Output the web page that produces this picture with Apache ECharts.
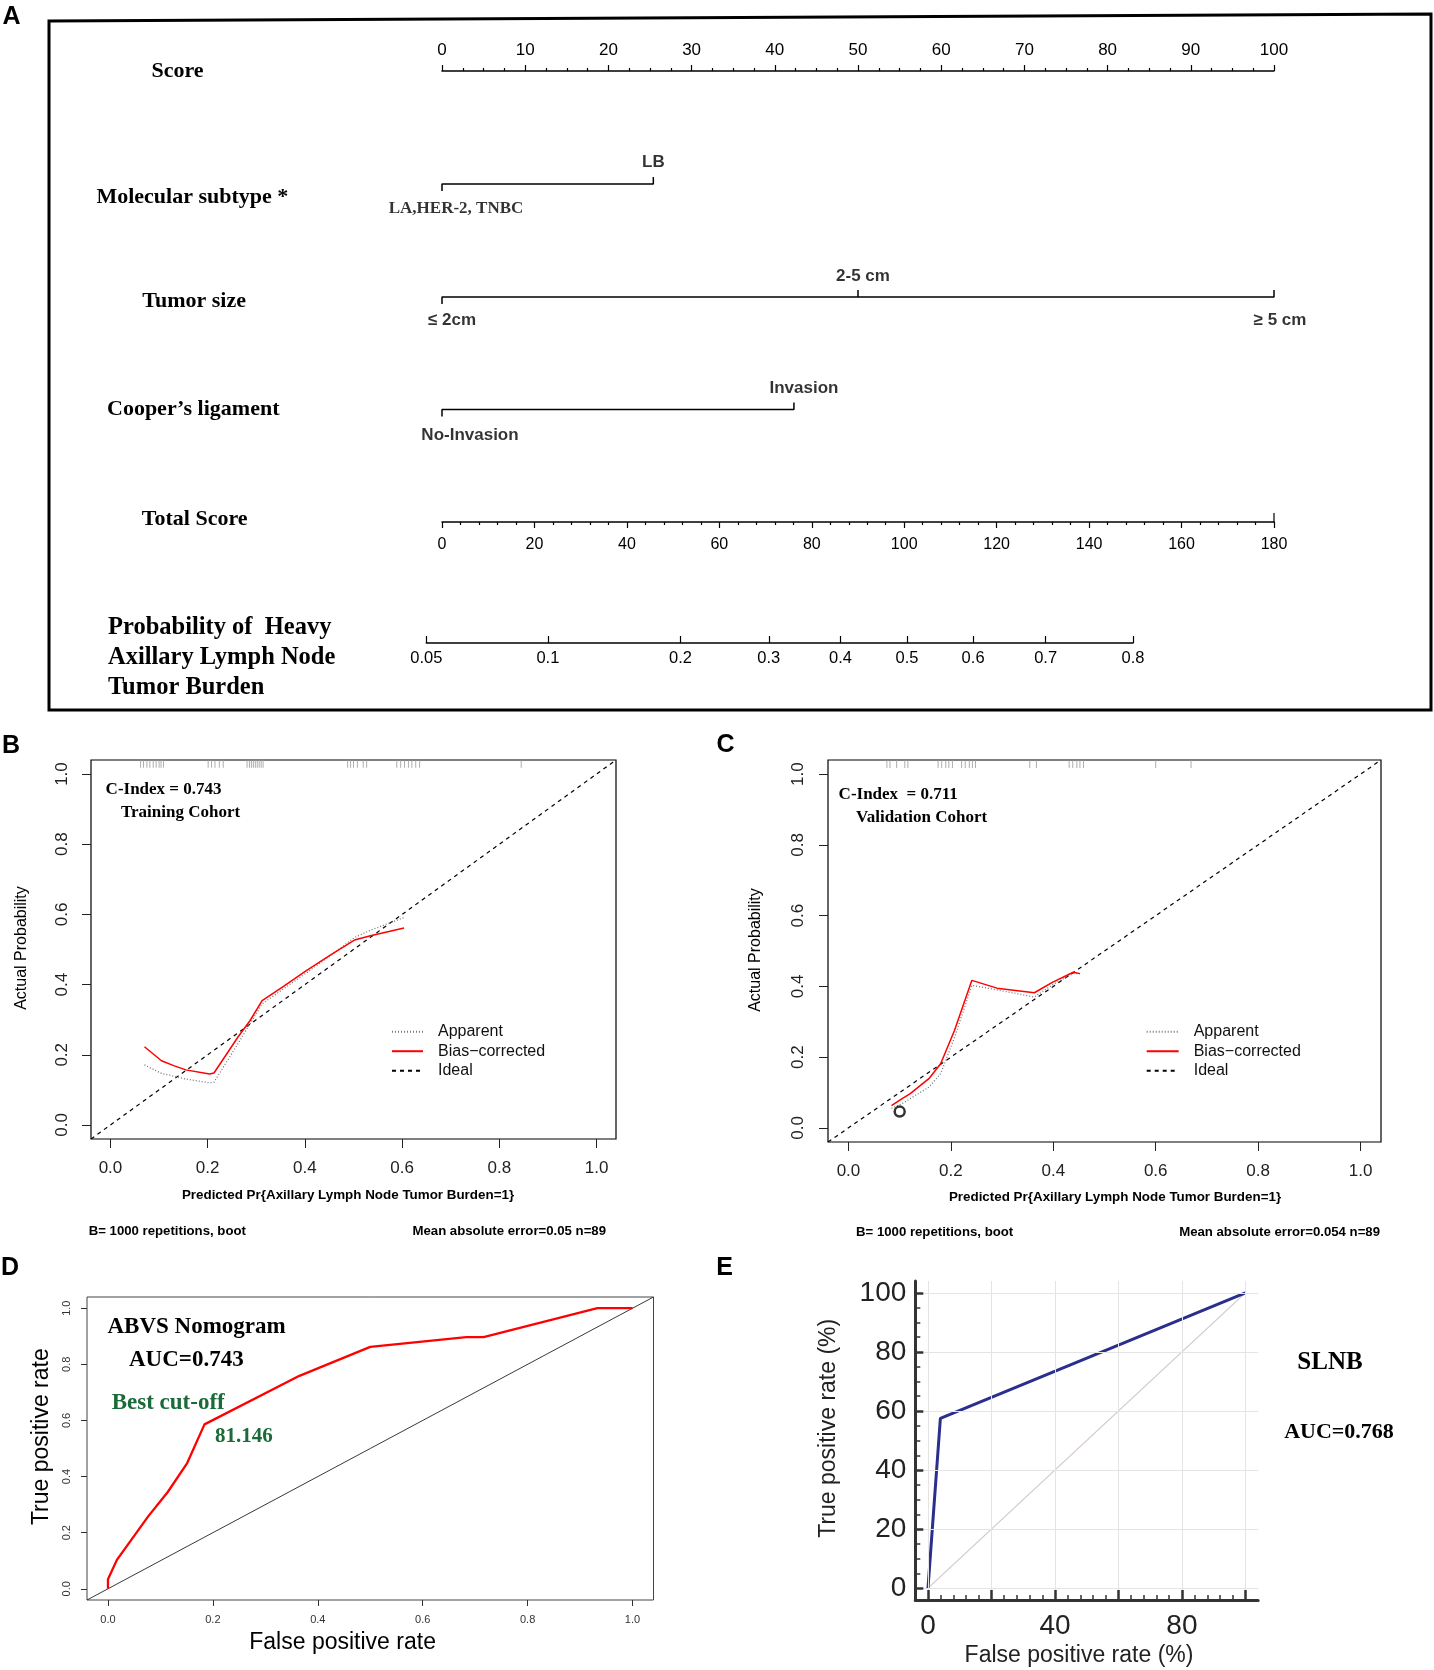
<!DOCTYPE html>
<html><head><meta charset="utf-8">
<script src="https://cdn.jsdelivr.net/npm/echarts@6/dist/echarts.min.js"></script>
<style>html,body{margin:0;padding:0;background:#fff}#c{width:1434px;height:1670px}</style>
</head><body><div id="c"></div>
<script>
// ---------- Panel A : nomogram ----------
const scoreRange = [0, 100];
const totalRange = [0, 180];
const subtypeLabels = ['LA,HER-2, TNBC', 'LB'];
const subtypePoints = [0, 25.4];
const tumorLabels = ['≤ 2cm', '2-5 cm', '≥ 5 cm'];
const tumorPoints = [0, 50, 100];
const cooperLabels = ['No-Invasion', 'Invasion'];
const cooperPoints = [0, 42.3];
const probLabels = ['0.05', '0.1', '0.2', '0.3', '0.4', '0.5', '0.6', '0.7', '0.8'];
const probPoints = [-3.4, 22.9, 51.6, 70.7, 86.2, 100.6, 114.9, 130.6, 149.5];

// ---------- Panel B : training calibration ----------
const calTicks = [0, 0.2, 0.4, 0.6, 0.8, 1.0];
const boxPad = 0.04;
const trainBiasX = [0.07, 0.105, 0.13, 0.155, 0.204, 0.213, 0.262, 0.287, 0.312, 0.353, 0.403, 0.453, 0.502, 0.535, 0.604];
const trainBiasY = [0.223, 0.183, 0.169, 0.157, 0.145, 0.148, 0.250, 0.297, 0.354, 0.392, 0.440, 0.485, 0.527, 0.539, 0.561];
const trainAppX = [0.07, 0.105, 0.155, 0.204, 0.213, 0.262, 0.287, 0.312, 0.353, 0.403, 0.453, 0.502, 0.535, 0.604];
const trainAppY = [0.171, 0.147, 0.131, 0.120, 0.122, 0.231, 0.288, 0.345, 0.385, 0.433, 0.483, 0.534, 0.555, 0.591];
const trainRug = [0.062, 0.068, 0.075, 0.081, 0.088, 0.094, 0.100, 0.104, 0.109, 0.201, 0.208, 0.215, 0.224, 0.232,
  0.281, 0.286, 0.290, 0.294, 0.298, 0.302, 0.306, 0.310, 0.314, 0.488, 0.494, 0.500, 0.508, 0.520, 0.527,
  0.589, 0.597, 0.605, 0.613, 0.620, 0.628, 0.636, 0.845];

// ---------- Panel C : validation calibration ----------
const validBiasX = [0.084, 0.104, 0.12, 0.157, 0.18, 0.207, 0.241, 0.29, 0.363, 0.399, 0.439, 0.452];
const validBiasY = [0.063, 0.082, 0.096, 0.139, 0.181, 0.275, 0.417, 0.395, 0.382, 0.412, 0.440, 0.436];
const validAppX = [0.084, 0.104, 0.157, 0.18, 0.207, 0.241, 0.29, 0.363, 0.399, 0.439, 0.452];
const validAppY = [0.055, 0.068, 0.115, 0.153, 0.255, 0.403, 0.390, 0.370, 0.405, 0.437, 0.436];
const validRug = [0.075, 0.081, 0.094, 0.110, 0.116, 0.175, 0.182, 0.190, 0.196, 0.203, 0.221, 0.228, 0.236, 0.242, 0.248,
  0.354, 0.367, 0.431, 0.438, 0.446, 0.452, 0.459, 0.600, 0.669];
const validPoint = [0.1, 0.046];
const rugY = 1.029;

// ---------- Panel D : nomogram ROC ----------
const rocTicks = [0, 0.2, 0.4, 0.6, 0.8, 1.0];
const rocX = [0, 0, 0.017, 0.077, 0.114, 0.151, 0.184, 0.365, 0.5, 0.683, 0.716, 0.933, 1];
const rocY = [0, 0.034, 0.103, 0.259, 0.345, 0.448, 0.586, 0.759, 0.862, 0.897, 0.897, 1, 1];

// ---------- Panel E : SLNB ROC ----------
const eTicks = [0, 20, 40, 60, 80, 100];
const eXLabels = [0, 40, 80];
const eXMinor = [4, 8, 12, 16, 24, 28, 32, 36, 44, 48, 52, 56, 64, 68, 72, 76, 84, 88, 92, 96];
const eYMinor = [5, 10, 15, 25, 30, 35, 45, 50, 55, 65, 70, 75, 85, 90, 95];
const slnbX = [0, 3.9, 100];
const slnbY = [0, 57.5, 100];
const ePad = 4;

// ---------- helpers ----------
const FS = '"Liberation Sans", Arial, sans-serif';
const FT = '"Liberation Serif", "Times New Roman", serif';
const pairs = (xs, ys) => xs.map((x, i) => [x, ys[i]]);
const NL = 442, NW = 832;
const ptsPx = NW / totalRange[1];
const probLeft = NL + probPoints[0] * ptsPx;
const probWidth = (probPoints[probPoints.length - 1] - probPoints[0]) * ptsPx;
const TICK = 0.7;

function rowLine(points) {
  const d = [[points[0], -TICK], [points[0], 0]];
  for (let i = 1; i < points.length; i++) d.push([points[i], 0], [points[i], TICK], [points[i], 0]);
  return d;
}
function rowLabels(points, labels, cfg) {
  return points.map((p, i) => ({
    value: [p, 0],
    label: {show: true, formatter: labels[i], position: cfg[i].pos, distance: cfg[i].d, offset: [cfg[i].dx, 0],
      fontFamily: cfg[i].font || FS, fontWeight: 'bold', fontSize: 17, color: '#000'}
  }));
}
const hidX = (gi, min, max) => ({gridIndex: gi, type: 'value', min, max, show: false});
const hidY = (gi, min, max) => ({gridIndex: gi, type: 'value', min, max, show: false});
const lineS = (xi, data, extra) => Object.assign({type: 'line', xAxisIndex: xi, yAxisIndex: xi, data, symbol: 'none', silent: true,
  lineStyle: {color: '#000', width: 1.5}, z: 3}, extra || {});
const labelS = (xi, data) => ({type: 'scatter', xAxisIndex: xi, yAxisIndex: xi, symbolSize: 1, itemStyle: {color: 'rgba(0,0,0,0)'}, data, silent: true, z: 4});
function probLabel(v) {
  let b = 0;
  probPoints.forEach((p, i) => { if (Math.abs(p - v) < Math.abs(probPoints[b] - v)) b = i; });
  return probLabels[b];
}
function calX(gi, ticks, len, margin, fs, color) {
  return {gridIndex: gi, type: 'value', min: -boxPad, max: 1 + boxPad,
    axisLine: {show: false, onZero: false},
    axisTick: {show: true, customValues: ticks, length: len, lineStyle: {color: color, width: 1}},
    axisLabel: {customValues: ticks, formatter: v => v.toFixed(1), margin, fontSize: fs, color, fontFamily: FS},
    splitLine: {show: false}};
}
function calY(gi, ticks, len, margin, fs, color) {
  const a = calX(gi, ticks, len, margin, fs, color);
  a.axisLabel.rotate = 90;
  return a;
}
const T = (text, x, y, o) => {
  o = o || {};
  const a = o.a || 'left';
  return {type: 'text', x, y, rotation: o.r || 0, z: 100, silent: true,
    style: {text, fill: o.fill || '#000', font: (o.w || 'bold') + ' ' + (o.s || 22) + 'px ' + (o.f || FT),
      align: a, verticalAlign: 'middle', textAlign: a, textVerticalAlign: 'middle'}};
};
const legendCfg = (left, w) => ({left, top: 1023.7, padding: 0, orient: 'vertical',
  data: ['Apparent', 'Bias−corrected', 'Ideal'], selectedMode: false,
  itemWidth: w, itemHeight: 10, itemGap: 3.5, itemStyle: {opacity: 0},
  textStyle: {fontSize: 16, fontFamily: FS, color: '#111', lineHeight: 16, padding: [0, 0, 0, 10]}});

const chart = echarts.init(document.getElementById('c'), null, {renderer: 'canvas', width: 1434, height: 1670});

const option = {
  animation: false,
  backgroundColor: '#fff',
  textStyle: {fontFamily: FS},
  grid: [
    {left: NL, width: NW, top: 71, height: 10, outerBoundsMode: 'none'},
    {left: NL, width: NW, top: 174, height: 20, outerBoundsMode: 'none'},
    {left: NL, width: NW, top: 287, height: 20, outerBoundsMode: 'none'},
    {left: NL, width: NW, top: 399.5, height: 20, outerBoundsMode: 'none'},
    {left: NL, width: NW, top: 512, height: 10, outerBoundsMode: 'none'},
    {left: probLeft, width: probWidth, top: 633, height: 10, outerBoundsMode: 'none'},
    {left: 91, top: 760, width: 525, height: 379, show: true, borderColor: '#000', borderWidth: 1.2, backgroundColor: 'transparent', outerBoundsMode: 'none'},
    {left: 828, top: 760, width: 553, height: 382, show: true, borderColor: '#000', borderWidth: 1.2, backgroundColor: 'transparent', outerBoundsMode: 'none'},
    {left: 87, top: 1297, width: 566.5, height: 303, show: true, borderColor: '#444', borderWidth: 1, backgroundColor: 'transparent', outerBoundsMode: 'none'},
    {left: 915.3, top: 1281, width: 342.8, height: 319, outerBoundsMode: 'none'}
  ],
  xAxis: [
    {gridIndex: 0, type: 'value', position: 'top', min: scoreRange[0], max: scoreRange[1], interval: 10,
      axisLine: {onZero: false, lineStyle: {color: '#000', width: 1.5}},
      axisTick: {length: 6, lineStyle: {color: '#000', width: 1.2}},
      minorTick: {show: true, splitNumber: 4, length: 3, lineStyle: {color: '#000', width: 1.2}},
      axisLabel: {margin: 12.5, fontSize: 17, color: '#000', fontFamily: FS},
      splitLine: {show: false}, minorSplitLine: {show: false}},
    hidX(1, scoreRange[0], scoreRange[1]),
    hidX(2, scoreRange[0], scoreRange[1]),
    hidX(3, scoreRange[0], scoreRange[1]),
    {gridIndex: 4, type: 'value', position: 'bottom', min: totalRange[0], max: totalRange[1], interval: 20,
      axisLine: {onZero: false, lineStyle: {color: '#000', width: 1.5}},
      axisTick: {length: 6, lineStyle: {color: '#000', width: 1.2}},
      minorTick: {show: true, splitNumber: 5, length: 3, lineStyle: {color: '#000', width: 1.2}},
      axisLabel: {margin: 15, fontSize: 16, color: '#000', fontFamily: FS},
      splitLine: {show: false}, minorSplitLine: {show: false}},
    {gridIndex: 5, type: 'value', position: 'bottom', min: probPoints[0], max: probPoints[probPoints.length - 1],
      axisLine: {onZero: false, lineStyle: {color: '#000', width: 1.5}},
      axisTick: {customValues: probPoints, inside: true, length: 7, lineStyle: {color: '#000', width: 1.2}},
      axisLabel: {customValues: probPoints, formatter: probLabel, margin: 6.5, fontSize: 16.5, color: '#000', fontFamily: FS},
      splitLine: {show: false}},
    calX(6, calTicks, 9, 20.5, 17, '#222'),
    calX(7, calTicks, 9, 21, 17, '#222'),
    calX(8, rocTicks, 6, 14.5, 11, '#333'),
    {gridIndex: 9, type: 'value', position: 'bottom', min: -ePad, max: 100 + ePad, z: 10,
      axisLine: {onZero: false, lineStyle: {color: '#333', width: 3}},
      axisTick: {customValues: eTicks, inside: true, length: 10, lineStyle: {color: '#333', width: 2.5}},
      axisLabel: {customValues: eXLabels, margin: 12.7, fontSize: 28, color: '#222', fontFamily: FS},
      splitLine: {show: false}},
    {gridIndex: 9, type: 'value', position: 'bottom', min: -ePad, max: 100 + ePad, z: 10,
      axisLine: {show: false, onZero: false},
      axisTick: {customValues: eXMinor, inside: true, length: 5, lineStyle: {color: '#333', width: 1.5}},
      axisLabel: {show: false}, splitLine: {show: false}}
  ],
  yAxis: [
    hidY(0, 0, 1),
    hidY(1, -1, 1),
    hidY(2, -1, 1),
    hidY(3, -1, 1),
    hidY(4, 0, 1),
    hidY(5, 0, 1),
    calY(6, calTicks, 9, 20, 17, '#222'),
    calY(7, calTicks, 9, 21.5, 17, '#222'),
    calY(8, rocTicks, 6, 14.3, 11, '#333'),
    {gridIndex: 9, type: 'value', position: 'left', min: -ePad, max: 100 + ePad, z: 10,
      axisLine: {onZero: false, lineStyle: {color: '#333', width: 3}},
      axisTick: {customValues: eTicks, inside: true, length: 8, lineStyle: {color: '#333', width: 2.5}},
      axisLabel: {customValues: eTicks, margin: 9, fontSize: 28, color: '#222', fontFamily: FS},
      splitLine: {show: false}},
    {gridIndex: 9, type: 'value', position: 'left', min: -ePad, max: 100 + ePad, z: 10,
      axisLine: {show: false, onZero: false},
      axisTick: {customValues: eYMinor, inside: true, length: 5, lineStyle: {color: '#333', width: 1.5}},
      axisLabel: {show: false}, splitLine: {show: false}}
  ],
  legend: [legendCfg(391, 31), legendCfg(1145.7, 32)],
  series: [
    // nomogram rows
    lineS(1, rowLine(subtypePoints)),
    labelS(1, rowLabels(subtypePoints, subtypeLabels, [
      {pos: 'bottom', d: 15.5, dx: 14, font: FT}, {pos: 'top', d: 12.5, dx: 0}])),
    lineS(2, rowLine(tumorPoints)),
    labelS(2, rowLabels(tumorPoints, tumorLabels, [
      {pos: 'bottom', d: 14.5, dx: 10}, {pos: 'top', d: 12, dx: 5}, {pos: 'bottom', d: 14.5, dx: 6}])),
    lineS(3, rowLine(cooperPoints)),
    labelS(3, rowLabels(cooperPoints, cooperLabels, [
      {pos: 'bottom', d: 17, dx: 28}, {pos: 'top', d: 12.5, dx: 10}])),
    lineS(4, [[totalRange[1], 0], [totalRange[1], 0.9]], {lineStyle: {color: '#000', width: 1.2}}),

    // Panel B
    {name: 'Ideal', type: 'line', xAxisIndex: 6, yAxisIndex: 6, symbol: 'none', silent: true, z: 2,
      itemStyle: {color: '#000'},
      data: [[-boxPad, -boxPad], [1 + boxPad, 1 + boxPad]], lineStyle: {color: '#000', width: 1.2, type: [4, 4]}},
    {name: 'Apparent', type: 'line', xAxisIndex: 6, yAxisIndex: 6, symbol: 'none', silent: true, z: 3,
      itemStyle: {color: '#777'},
      data: pairs(trainAppX, trainAppY), lineStyle: {color: '#777', width: 1.3, type: [1, 2]}},
    {name: 'Bias−corrected', type: 'line', xAxisIndex: 6, yAxisIndex: 6, symbol: 'none', silent: true, z: 4,
      itemStyle: {color: '#ff0000'},
      data: pairs(trainBiasX, trainBiasY), lineStyle: {color: '#ff0000', width: 1.5}},
    {type: 'scatter', xAxisIndex: 6, yAxisIndex: 6, symbol: 'rect', symbolSize: [1, 8], silent: true,
      itemStyle: {color: '#999999'}, data: trainRug.map(v => [v, rugY])},

    // Panel C
    {name: 'Ideal', type: 'line', xAxisIndex: 7, yAxisIndex: 7, symbol: 'none', silent: true, z: 2,
      itemStyle: {color: '#000'},
      data: [[-boxPad, -boxPad], [1 + boxPad, 1 + boxPad]], lineStyle: {color: '#000', width: 1.2, type: [4, 4]}},
    {name: 'Apparent', type: 'line', xAxisIndex: 7, yAxisIndex: 7, symbol: 'none', silent: true, z: 3,
      itemStyle: {color: '#777'},
      data: pairs(validAppX, validAppY), lineStyle: {color: '#777', width: 1.3, type: [1, 2]}},
    {name: 'Bias−corrected', type: 'line', xAxisIndex: 7, yAxisIndex: 7, symbol: 'none', silent: true, z: 4,
      itemStyle: {color: '#ff0000'},
      data: pairs(validBiasX, validBiasY), lineStyle: {color: '#ff0000', width: 1.5}},
    {type: 'scatter', xAxisIndex: 7, yAxisIndex: 7, symbol: 'rect', symbolSize: [1, 8], silent: true,
      itemStyle: {color: '#999999'}, data: validRug.map(v => [v, rugY])},
    {type: 'scatter', xAxisIndex: 7, yAxisIndex: 7, symbol: 'circle', symbolSize: 10, silent: true, z: 5,
      itemStyle: {color: 'rgba(0,0,0,0)', borderColor: '#000', borderWidth: 2.5}, data: [validPoint]},

    // Panel D
    {type: 'line', xAxisIndex: 8, yAxisIndex: 8, symbol: 'none', silent: true, z: 2,
      data: [[-boxPad, -boxPad], [1 + boxPad, 1 + boxPad]], lineStyle: {color: '#222', width: 0.9}},
    {type: 'line', xAxisIndex: 8, yAxisIndex: 8, symbol: 'none', silent: true, z: 3,
      data: pairs(rocX, rocY), lineStyle: {color: '#ff0000', width: 2.3}},

    // Panel E
    {type: 'line', xAxisIndex: 9, yAxisIndex: 9, symbol: 'none', silent: true, z: 2,
      data: [[0, 0], [100, 100]], lineStyle: {color: '#d2c8c8', width: 1.2},
      markLine: {silent: true, symbol: 'none', label: {show: false}, emphasis: {disabled: true},
        lineStyle: {color: '#e4e4e4', width: 1, type: 'solid'},
        data: eTicks.map(v => ({xAxis: v})).concat(eTicks.map(v => ({yAxis: v})))}},
    {type: 'line', xAxisIndex: 9, yAxisIndex: 9, symbol: 'none', silent: true, z: 3,
      data: pairs(slnbX, slnbY), lineStyle: {color: '#2b2e8c', width: 3}}
  ],
  graphic: {elements: [
    {type: 'polygon', silent: true, shape: {points: [[49, 21], [1431, 14], [1431, 710], [49, 710]]},
      style: {fill: 'none', stroke: '#000', lineWidth: 3}},
    T('A', 11.5, 17, {f: FS, s: 25, a: 'center'}),
    T('B', 11, 746, {f: FS, s: 25, a: 'center'}),
    T('C', 725.5, 745, {f: FS, s: 25, a: 'center'}),
    T('D', 10, 1268, {f: FS, s: 25, a: 'center'}),
    T('E', 724.5, 1268, {f: FS, s: 25, a: 'center'}),
    // nomogram row names
    T('Score', 151.5, 71.5),
    T('Molecular subtype *', 96.4, 197),
    T('Tumor size', 142.3, 301),
    T('Cooper’s ligament', 107, 409),
    T('Total Score', 141.8, 519),
    T('Probability of  Heavy', 108, 628, {s: 24.5}),
    T('Axillary Lymph Node', 108, 658, {s: 24.5}),
    T('Tumor Burden', 108, 688, {s: 24.5}),
    // B
    T('C-Index = 0.743', 105.6, 790, {s: 17}),
    T('Training Cohort', 121, 812.7, {s: 17}),
    T('Actual Probability', 22, 948, {f: FS, w: 'normal', s: 16, a: 'center', r: Math.PI / 2}),
    T('Predicted Pr{Axillary Lymph Node Tumor Burden=1}', 348, 1195, {f: FS, s: 13.4, a: 'center'}),
    T('B= 1000 repetitions, boot', 88.7, 1231, {f: FS, s: 13.2}),
    T('Mean absolute error=0.05 n=89', 606, 1231, {f: FS, s: 13.2, a: 'right'}),
    // C
    T('C-Index  = 0.711', 838.6, 795, {s: 17}),
    T('Validation Cohort', 856, 817.7, {s: 17}),
    T('Actual Probability', 756, 950, {f: FS, w: 'normal', s: 16, a: 'center', r: Math.PI / 2}),
    T('Predicted Pr{Axillary Lymph Node Tumor Burden=1}', 1115, 1197, {f: FS, s: 13.4, a: 'center'}),
    T('B= 1000 repetitions, boot', 856, 1232.7, {f: FS, s: 13.2}),
    T('Mean absolute error=0.054 n=89', 1380, 1232.7, {f: FS, s: 13.2, a: 'right'}),
    // D
    T('ABVS Nomogram', 107.5, 1327, {s: 23}),
    T('AUC=0.743', 129, 1360, {s: 23}),
    T('Best cut-off', 111.7, 1403, {s: 23, fill: '#1b6b3a'}),
    T('81.146', 215, 1437, {s: 21, fill: '#1b6b3a'}),
    T('False positive rate', 342.6, 1642.7, {f: FS, w: 'normal', s: 23, a: 'center'}),
    T('True positive rate', 41.2, 1436.7, {f: FS, w: 'normal', s: 23, a: 'center', r: Math.PI / 2}),
    // E
    T('SLNB', 1330, 1363, {s: 25, a: 'center'}),
    T('AUC=0.768', 1339, 1432, {s: 22, a: 'center'}),
    T('False positive rate (%)', 1079, 1656, {f: FS, w: 'normal', s: 23, a: 'center', fill: '#222'}),
    T('True positive rate (%)', 828.7, 1428.3, {f: FS, w: 'normal', s: 23, a: 'center', r: Math.PI / 2, fill: '#222'})
  ]}
};
chart.setOption(option);
</script>
</body></html>
